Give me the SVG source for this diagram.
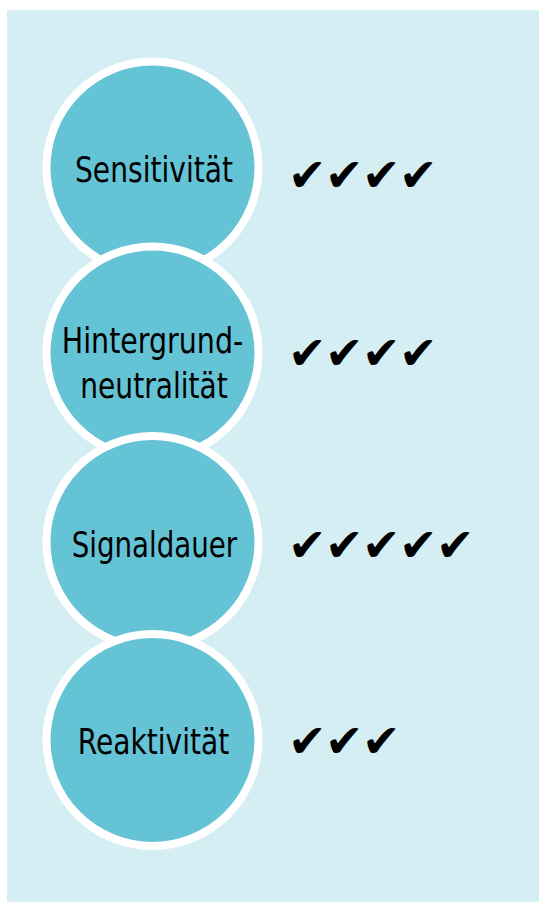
<svg xmlns="http://www.w3.org/2000/svg" width="539" height="902" viewBox="0 0 539 902">
<style>
.bg{fill:#D4EEF3}
.node circle{fill:#65C3D6;stroke:#FFFFFF;stroke-width:8}
.lbl{font-family:"Liberation Sans Narrow","DejaVu Sans Condensed","Liberation Sans",sans-serif;font-size:35px;fill:#000;text-anchor:middle}
.chk{font-family:"DejaVu Sans",sans-serif;font-size:46px;fill:#000}
</style>
<rect class="bg" x="7" y="10" width="532" height="892"/>
<g id="node-sensitivitaet" class="node">
<circle cx="152.5" cy="167.5" r="106"/>
<text class="lbl" x="154" y="181.5" textLength="158" lengthAdjust="spacingAndGlyphs">Sensitivität</text>
<text class="chk"><tspan x="288 325 362 399" y="191">✔✔✔✔</tspan></text>
</g>
<g id="node-hintergrund" class="node">
<circle cx="152.5" cy="352.5" r="106"/>
<text class="lbl" x="152.5" y="352.5" textLength="181.5" lengthAdjust="spacingAndGlyphs">Hintergrund-</text>
<text class="lbl" x="154" y="397.5" textLength="147.5" lengthAdjust="spacingAndGlyphs">neutralität</text>
<text class="chk"><tspan x="288 325 362 399" y="368.5">✔✔✔✔</tspan></text>
</g>
<g id="node-signaldauer" class="node">
<circle cx="152.5" cy="542" r="106"/>
<text class="lbl" x="154.5" y="557" textLength="165.5" lengthAdjust="spacingAndGlyphs">Signaldauer</text>
<text class="chk"><tspan x="288 325 362 399 436" y="561">✔✔✔✔✔</tspan></text>
</g>
<g id="node-reaktivitaet" class="node">
<circle cx="152.5" cy="740" r="106"/>
<text class="lbl" x="153.5" y="754" textLength="151.5" lengthAdjust="spacingAndGlyphs">Reaktivität</text>
<text class="chk"><tspan x="288 325 362" y="757">✔✔✔</tspan></text>
</g>
<g id="connectors"/>
</svg>
